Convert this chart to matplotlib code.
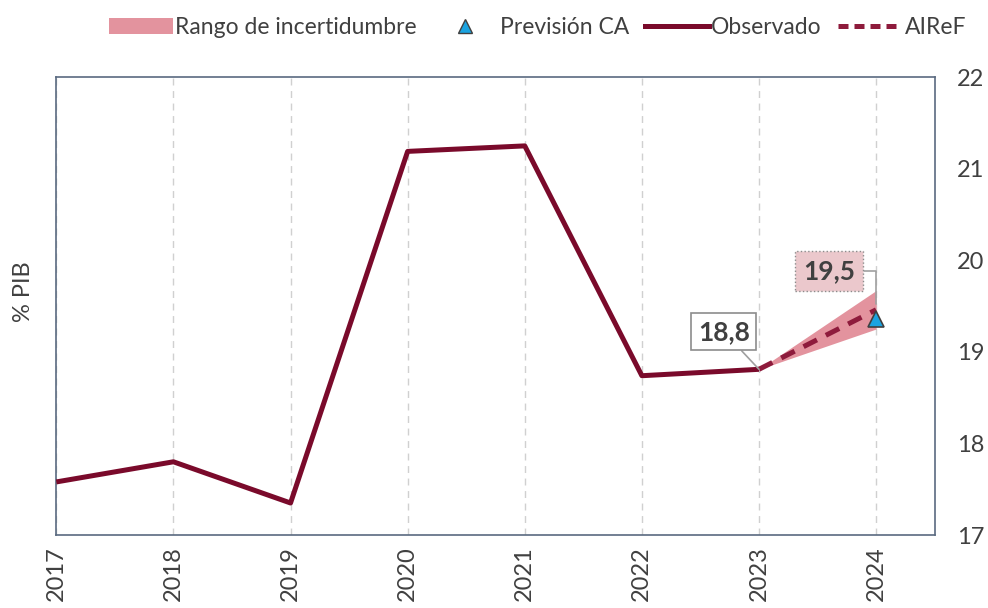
import matplotlib
matplotlib.use('Agg')
import matplotlib.pyplot as plt
from matplotlib.patches import Patch
from matplotlib.lines import Line2D

plt.rcParams['font.family'] = ['Lato', 'DejaVu Sans']

# Data
years = [2017, 2018, 2019, 2020, 2021, 2022, 2023]
observed = [17.58, 17.80, 17.35, 21.19, 21.25, 18.74, 18.81]

airef_years = [2023, 2024]
airef = [18.81, 19.46]
band_low = [18.81, 19.25]
band_high = [18.81, 19.67]

ca_year = [2024]
ca_value = [19.36]

label_2023 = '18,8'
label_2024 = '19,5'

# Colours
MAROON = '#7A0A2B'
BAND = '#E3939E'
TEXT = '#404040'
SPINE = '#5A6A80'

fig = plt.figure(figsize=(9.88, 6.08), dpi=100)
ax = fig.add_axes([0.057, 0.12, 0.889, 0.753])

ax.fill_between(airef_years, band_low, band_high, color=BAND, lw=0, zorder=2)
ax.plot(years, observed, color=MAROON, lw=3.6, solid_capstyle='butt', zorder=3)
ax.plot(airef_years, airef, color='#8E1B3C', lw=3.6, ls=(0, (3, 2)), zorder=4)
ax.plot(ca_year, ca_value, marker='^', ms=12, color='#1BA3E0',
        markeredgecolor='#404040', markeredgewidth=1.2, ls='none', zorder=5)

# Annotations
ax.annotate(label_2023, xy=(2023, 18.81), xytext=(2022.7, 19.22),
            fontsize=19, fontweight='bold', color=TEXT, ha='center', va='center',
            bbox=dict(boxstyle='square,pad=0.25', fc='white', ec='#8C8C8C', lw=1.2),
            arrowprops=dict(arrowstyle='-', color='#A0A0A0', lw=1.2,
                            shrinkA=0, shrinkB=0), zorder=6)
ax.annotate(label_2024, xy=(2024, 19.52), xytext=(2023.6, 19.88),
            fontsize=19, fontweight='bold', color=TEXT, ha='center', va='center',
            bbox=dict(boxstyle='square,pad=0.3', fc='#EBC8CC', ec='#8C8C8C', lw=1.0, ls=':'),
            arrowprops=dict(arrowstyle='-', color='#A0A0A0', lw=1.2,
                            connectionstyle='angle,angleA=0,angleB=90,rad=0',
                            shrinkA=0, shrinkB=0), zorder=6)

# Axes
ax.set_xlim(2017, 2024.5)
ax.set_ylim(17, 22)
ax.set_xticks(list(range(2017, 2025)))
ax.set_xticklabels([str(y) for y in range(2017, 2025)], rotation=90,
                   fontsize=17, color=TEXT)
ax.set_yticks(range(17, 23))
ax.yaxis.tick_right()
ax.tick_params(axis='y', labelsize=17, labelcolor=TEXT, length=0, pad=16)
ax.tick_params(axis='x', length=0, pad=8)
ax.grid(axis='x', color='#D0D0D0', ls=(0, (5, 4)), lw=1.0)
for s in ax.spines.values():
    s.set_color(SPINE)
    s.set_linewidth(1.2)

fig.text(0.024, 0.52, '% PIB', rotation=90, fontsize=17, color=TEXT,
         ha='center', va='center')

handles = [
    Patch(facecolor=BAND, edgecolor='none', label='Rango de incertidumbre'),
    Line2D([], [], marker='^', ms=10, color='#1BA3E0', markeredgecolor='#404040',
           ls='none', label='Previsión CA'),
    Line2D([], [], color=MAROON, lw=3.6, label='Observado'),
    Line2D([], [], color='#8E1B3C', lw=3.6, ls=(0, (2, 1.2)), label='AIReF'),
]
leg = fig.legend(handles=handles, loc='center', bbox_to_anchor=(0.544, 0.955), ncol=4,
                 frameon=False, fontsize=16.5, handlelength=2.8, handletextpad=0.1,
                 columnspacing=0.7)
for t in leg.get_texts():
    t.set_color(TEXT)

plt.savefig('out.png', dpi=100)
plt.close()
